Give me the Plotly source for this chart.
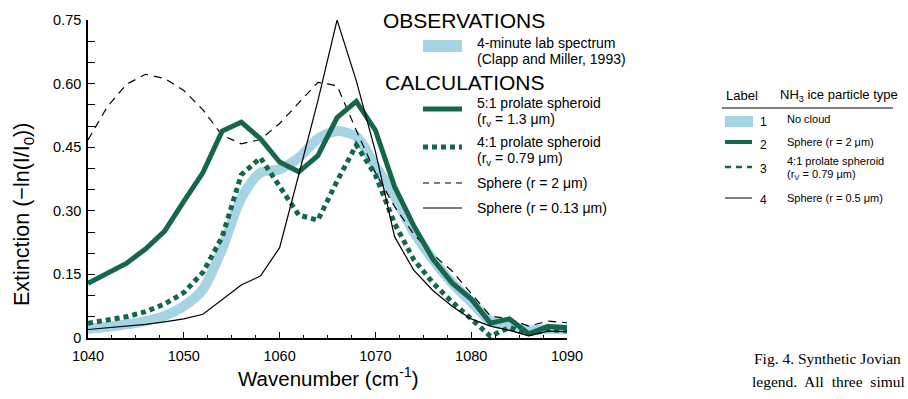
import plotly.graph_objects as go

# ---------------- data ----------------
wavenumber = [1040, 1042, 1044, 1046, 1048, 1050, 1052, 1054, 1056, 1058, 1060, 1062, 1064,
              1066, 1068, 1070, 1072, 1074, 1076, 1078, 1080, 1082, 1084, 1086, 1088, 1090]
lab_spectrum = [0.022, 0.026, 0.032, 0.040, 0.052, 0.075, 0.115, 0.210, 0.330, 0.390, 0.398, 0.425, 0.470,
                0.488, 0.475, 0.405, 0.335, 0.250, 0.185, 0.130, 0.085, 0.040, 0.030, 0.018, 0.022, 0.020]
prolate_5to1 = [0.129, 0.152, 0.176, 0.210, 0.252, 0.322, 0.390, 0.488, 0.509, 0.470, 0.415, 0.392, 0.430,
                0.520, 0.558, 0.490, 0.357, 0.265, 0.186, 0.130, 0.092, 0.035, 0.045, 0.010, 0.027, 0.024]
prolate_4to1 = [0.035, 0.042, 0.050, 0.062, 0.080, 0.107, 0.155, 0.238, 0.385, 0.425, 0.355, 0.290, 0.278,
                0.370, 0.455, 0.385, 0.270, 0.185, 0.130, 0.085, 0.045, 0.004, 0.025, 0.010, 0.020, 0.017]
sphere_2um = [0.467, 0.545, 0.598, 0.622, 0.612, 0.584, 0.538, 0.478, 0.458, 0.468, 0.506, 0.555, 0.603,
              0.595, 0.490, 0.390, 0.310, 0.245, 0.197, 0.158, 0.105, 0.052, 0.045, 0.028, 0.040, 0.036]
sphere_013um = [0.020, 0.024, 0.027, 0.032, 0.038, 0.045, 0.056, 0.090, 0.125, 0.146, 0.213, 0.385, 0.560,
                0.750, 0.607, 0.440, 0.239, 0.160, 0.112, 0.075, 0.045, 0.028, 0.018, 0.005, 0.016, 0.015]

y_tick_vals = [0, 0.15, 0.30, 0.45, 0.60, 0.75]
y_tick_text = ["0", "0.15", "0.30", "0.45", "0.60", "0.75"]
x_tick_vals = [1040, 1050, 1060, 1070, 1080, 1090]

# ---------------- styling ----------------
W, H = 908, 399
ML, MR, MT, MB = 88, 341, 20, 61
L, R, T, B = ML, W - MR, MT, H - MB
SANS = "Liberation Sans, Arial, sans-serif"
SERIF = "Liberation Serif, Times New Roman, serif"
GREEN = "#15664a"
BLUE = "#a7d4e5"


def px(x):
    return (x - L) / (R - L)


def py(y):
    return (B - y) / (B - T)


fig = go.Figure()
fig.add_trace(go.Scatter(x=wavenumber, y=lab_spectrum, mode="lines",
                         line=dict(color=BLUE, width=10, shape="spline", smoothing=0.8)))
fig.add_trace(go.Scatter(x=wavenumber, y=sphere_2um, mode="lines",
                         line=dict(color="black", width=1.2, dash="8px,6px")))
fig.add_trace(go.Scatter(x=wavenumber, y=prolate_5to1, mode="lines",
                         line=dict(color=GREEN, width=5)))
fig.add_trace(go.Scatter(x=wavenumber, y=prolate_4to1, mode="lines",
                         line=dict(color=GREEN, width=5, dash="5px,4px")))
fig.add_trace(go.Scatter(x=wavenumber, y=sphere_013um, mode="lines",
                         line=dict(color="black", width=1.2)))

shapes = []
ann = []


def text(x, y, s, size, family=SANS, anchor="left", angle=0):
    ann.append(dict(x=px(x), y=py(y), xref="paper", yref="paper", text=s, showarrow=False,
                    xanchor=anchor, yanchor="middle", textangle=angle,
                    font=dict(family=family, size=size, color="black")))


def hline(x0, x1, y, color, width, dash="solid"):
    shapes.append(dict(type="line", xref="paper", yref="paper", x0=px(x0), x1=px(x1),
                       y0=py(y), y1=py(y), line=dict(color=color, width=width, dash=dash)))


def rect(x0, x1, y0, y1, color):
    shapes.append(dict(type="rect", xref="paper", yref="paper", x0=px(x0), x1=px(x1),
                       y0=py(y1), y1=py(y0), fillcolor=color, line=dict(width=0)))


# axis titles
text(23, 215, "Extinction (−ln(I/I<sub>0</sub>))", 21.5, angle=-90, anchor="center")
text(328, 377, "Wavenumber (cm<sup>-1</sup>)", 20.5, anchor="center")

# in-plot legend
LF = 14
text(381, 20.5, "OBSERVATIONS", 21)
rect(423, 462, 40, 52, BLUE)
text(475, 43, "4-minute lab spectrum", LF)
text(475, 59, "(Clapp and Miller, 1993)", LF)
text(383, 83, "CALCULATIONS", 21)
hline(423, 462, 109, GREEN, 5)
text(475, 103, "5:1 prolate spheroid", LF)
text(475, 120, "(r<sub>v</sub> = 1.3 μm)", LF)
hline(423, 462, 147, GREEN, 5, "5px,4px")
text(475, 142, "4:1 prolate spheroid", LF)
text(475, 159, "(r<sub>v</sub> = 0.79 μm)", LF)
hline(423, 462, 183, "black", 1.2, "6px,5px")
text(475, 183, "Sphere (r = 2 μm)", LF)
hline(423, 462, 208, "black", 1.2)
text(475, 208, "Sphere (r = 0.13 μm)", LF)

# right-hand table
text(724, 96, "Label", 13)
text(778, 96, "NH<sub>3</sub> ice particle type", 13)
hline(722, 893, 108, "black", 1)
rect(725, 753, 116, 127, BLUE)
text(758, 122, "1", 12)
text(785, 119, "No cloud", 11)
hline(725, 752, 142, GREEN, 4)
text(758, 145, "2", 12)
text(785, 142, "Sphere (r = 2 μm)", 11)
hline(725, 752, 167, GREEN, 2.5, "6px,5px")
text(758, 169, "3", 12)
text(785, 161, "4:1 prolate spheroid", 11)
text(785, 175, "(r<sub>V</sub> = 0.79 μm)", 11)
hline(725, 752, 198, "black", 1)
text(758, 200, "4", 12)
text(785, 198, "Sphere (r = 0.5 μm)", 11)

# caption fragment
text(752, 358, "Fig. 4. Synthetic Jovian", 15.5, family=SERIF)
text(750, 381, "legend.  All  three  simul", 15.5, family=SERIF)

fig.update_layout(
    width=W, height=H, margin=dict(l=ML, r=MR, t=MT, b=MB, pad=0),
    paper_bgcolor="white", plot_bgcolor="white", showlegend=False,
    shapes=shapes, annotations=ann,
    font=dict(family=SANS, size=14.5, color="black"),
    xaxis=dict(range=[1040, 1090], tickvals=x_tick_vals, ticks="inside", ticklen=6, tickwidth=1.2,
               tickcolor="black", showline=True, linecolor="black", linewidth=1.5,
               showgrid=False, zeroline=False, ticklabelstandoff=4,
               minor=dict(dtick=2.5, tick0=1040, ticks="inside", ticklen=3, tickwidth=1,
                          tickcolor="black", showgrid=False),
               tickfont=dict(family=SANS, size=14.5)),
    yaxis=dict(range=[0, 0.75], tickvals=y_tick_vals, ticktext=y_tick_text, ticks="inside", ticklen=7,
               tickwidth=1.2, tickcolor="black", showline=True, linecolor="black", linewidth=1.5,
               showgrid=False, zeroline=False, ticklabelstandoff=2,
               minor=dict(dtick=0.05, tick0=0, ticks="inside", ticklen=7, tickwidth=1.2,
                          tickcolor="black", showgrid=False),
               tickfont=dict(family=SANS, size=14.5)),
)

fig.write_html("out.html")
